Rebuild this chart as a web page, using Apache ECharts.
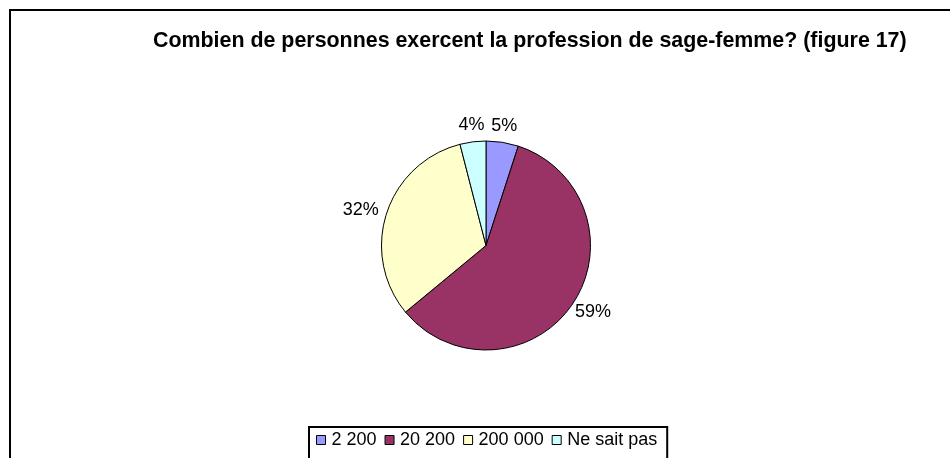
<!DOCTYPE html>
<html>
<head>
<meta charset="utf-8">
<script src="https://cdn.jsdelivr.net/npm/echarts@6/dist/echarts.min.js"></script>
<style>
  html, body { margin: 0; padding: 0; background: #fff; }
  #chart { width: 950px; height: 458px; }
</style>
</head>
<body>
<div id="chart"></div>
<script>
// categories and shares (percent)
var categories = ['2 200', '20 200', '200 000', 'Ne sait pas'];
var shares = [5, 59, 32, 4];
var sliceColors = ['#9999FF', '#993366', '#FFFFCC', '#CCFFFF'];

var titleText = 'Combien de personnes exercent la profession de sage-femme? (figure 17)';

var pieCenter = [486, 245.5];
var pieRadius = 104.5;
var labelGap = 10;

var chart = echarts.init(document.getElementById('chart'));

var pieData = categories.map(function(name, i){
	return { name: name, value: shares[i], itemStyle: { color: sliceColors[i] } };
});

var total = shares.reduce(function(a, b){ return a + b; }, 0);

/**
 * Puts each percent label just outside its slice, centred on the
 * slice's middle direction (the way the spreadsheet chart does it)
 */
function placeLabel(params){
	var before = 0;
	for(var ii = 0; ii < params.dataIndex; ii++){
		before += shares[ii];
	}
	var mid = (before + shares[params.dataIndex] / 2) / total * Math.PI * 2;
	var dx = Math.sin(mid);
	var dy = -Math.cos(mid);
	var w = params.labelRect.width;
	var h = params.labelRect.height;
	var dist = pieRadius + labelGap;
	return {
		x: pieCenter[0] + dx * (dist + w / 2 * Math.abs(dx)),
		y: pieCenter[1] + dy * (dist - 2 + h / 2 * Math.abs(dy)),
		align: 'center',
		verticalAlign: 'middle'
	};
}

var option = {
	animation: false,
	backgroundColor: '#fff',
	textStyle: { fontFamily: 'Liberation Sans, Arial, sans-serif' },
	// outer frame of the chart area (runs past the right and bottom edges)
	graphic: [{
		type: 'rect',
		shape: { x: 10, y: 10, width: 960, height: 470 },
		style: { fill: 'none', stroke: '#000', lineWidth: 2 },
		silent: true
	}],
	title: {
		text: titleText,
		left: 153,
		top: 31,
		padding: 0,
		textStyle: {
			fontFamily: 'Liberation Sans, Arial, sans-serif',
			fontSize: 21.4,
			fontWeight: 'bold',
			color: '#000'
		}
	},
	legend: {
		data: categories,
		left: 309,
		top: 427,
		orient: 'horizontal',
		itemWidth: 9,
		itemHeight: 9,
		itemGap: 8,
		padding: [4, 10, 20, 7],
		borderColor: '#000',
		borderWidth: 2,
		icon: 'rect',
		selectedMode: false,
		itemStyle: { borderColor: '#000', borderWidth: 1 },
		textStyle: {
			fontFamily: 'Liberation Sans, Arial, sans-serif',
			fontSize: 18,
			color: '#000',
			padding: [0, 0, 0, 1]
		}
	},
	series: [{
		type: 'pie',
		center: pieCenter,
		radius: [0, pieRadius],
		startAngle: 90,
		clockwise: true,
		data: pieData,
		itemStyle: { borderColor: '#000', borderWidth: 1 },
		emphasis: { disabled: true },
		label: {
			show: true,
			position: 'outside',
			formatter: '{d}%',
			fontFamily: 'Liberation Sans, Arial, sans-serif',
			fontSize: 18,
			color: '#000'
		},
		labelLine: { show: false, length: 8, length2: 0 },
		labelLayout: placeLabel
	}]
};

chart.setOption(option);
</script>
</body>
</html>
